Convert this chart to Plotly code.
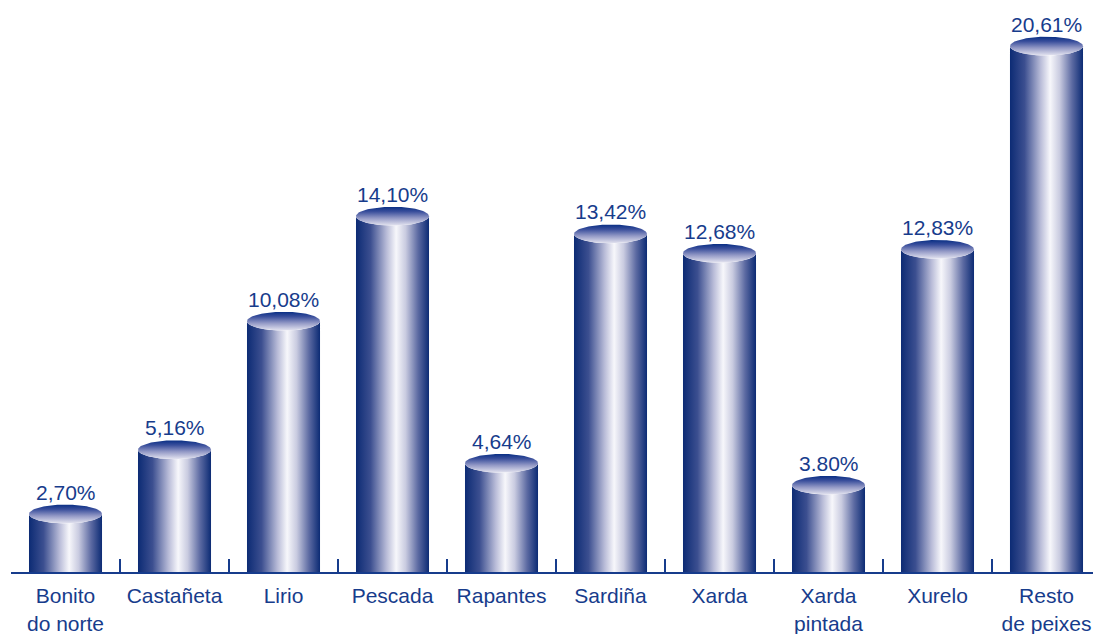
import numpy as np
import plotly.graph_objects as go

# ---- data ----
species = ["Bonito<br>do norte", "Castañeta", "Lirio", "Pescada", "Rapantes",
           "Sardiña", "Xarda", "Xarda<br>pintada", "Xurelo", "Resto<br>de peixes"]
shares = [2.70, 5.16, 10.08, 14.10, 4.64, 13.42, 12.68, 3.80, 12.83, 20.61]
share_labels = ["2,70%", "5,16%", "10,08%", "14,10%", "4,64%",
                "13,42%", "12,68%", "3.80%", "12,83%", "20,61%"]

# ---- style ----
BLUE = "#173c8c"
FLOOR = 0.48          # floor of the 3d box, in axis units
HALF_W = 0.335        # half width of a cylinder (category units)
CAP_RY = 0.36         # half height of the top ellipse (axis units)

body_scale = [[0.0, "#0c2b74"], [0.2, "#3c4f90"], [0.42, "#b9bcd8"],
              [0.55, "#f7f7fb"], [0.68, "#c9cbe0"], [0.85, "#5c6aa2"],
              [1.0, "#0c2b74"]]
cap_scale = [[0.0, "#e4e4f0"], [0.4, "#9399c6"], [0.75, "#3a4f9c"], [1.0, "#0a2f85"]]

fig = go.Figure()
t_front = np.linspace(np.pi, 2 * np.pi, 60)   # front half of the rim
t_full = np.linspace(0, 2 * np.pi, 120)

for i, v in enumerate(shares):
    # cylinder body
    bx = np.concatenate([[i - HALF_W], i + HALF_W * np.cos(t_front), [i + HALF_W]])
    by = np.concatenate([[FLOOR], v + CAP_RY * np.sin(t_front), [FLOOR]])
    fig.add_trace(go.Scatter(x=bx, y=by, fill="toself", mode="lines",
                             line=dict(width=0),
                             fillgradient=dict(type="horizontal", colorscale=body_scale),
                             hoverinfo="skip", showlegend=False))
    # top cap
    cx = i + HALF_W * np.cos(t_full)
    cy = v + CAP_RY * np.sin(t_full)
    fig.add_trace(go.Scatter(x=cx, y=cy, fill="toself", mode="lines",
                             line=dict(width=0),
                             fillgradient=dict(type="vertical", colorscale=cap_scale),
                             hoverinfo="skip", showlegend=False))
    fig.add_annotation(x=i, y=v, text=share_labels[i], showarrow=False,
                       yanchor="middle", yshift=22,
                       font=dict(size=21, color=BLUE))

idx = list(range(len(species)))
bounds = [k - 0.5 for k in range(len(species) + 1)]

# page body has an 8px margin, so the margins below are shifted by that
fig.update_layout(
    width=1101, height=634,
    margin=dict(l=3, r=8, t=0, b=70),
    paper_bgcolor="white", plot_bgcolor="white",
    font=dict(family="Liberation Sans, Arial, sans-serif", size=21, color=BLUE),
    xaxis=dict(range=[-0.5, 9.5], tickvals=idx, ticktext=species, ticks="",
               ticklabelstandoff=4,
               automargin=False, showgrid=False, zeroline=False, showline=True,
               linecolor=BLUE, linewidth=2, tickfont=dict(size=21, color=BLUE)),
    xaxis2=dict(overlaying="x", anchor="y", side="bottom", range=[-0.5, 9.5],
                tickvals=bounds, showticklabels=False, ticks="inside",
                ticklen=13, tickwidth=2, tickcolor=BLUE, automargin=False,
                showgrid=False, zeroline=False),
    yaxis=dict(range=[FLOOR, 22.07], visible=False, showgrid=False, automargin=False),
)
# dummy trace so xaxis2 is drawn
fig.add_trace(go.Scatter(x=[0], y=[FLOOR], xaxis="x2", mode="markers",
                         marker=dict(opacity=0), hoverinfo="skip", showlegend=False))

fig.write_html("out.html")
